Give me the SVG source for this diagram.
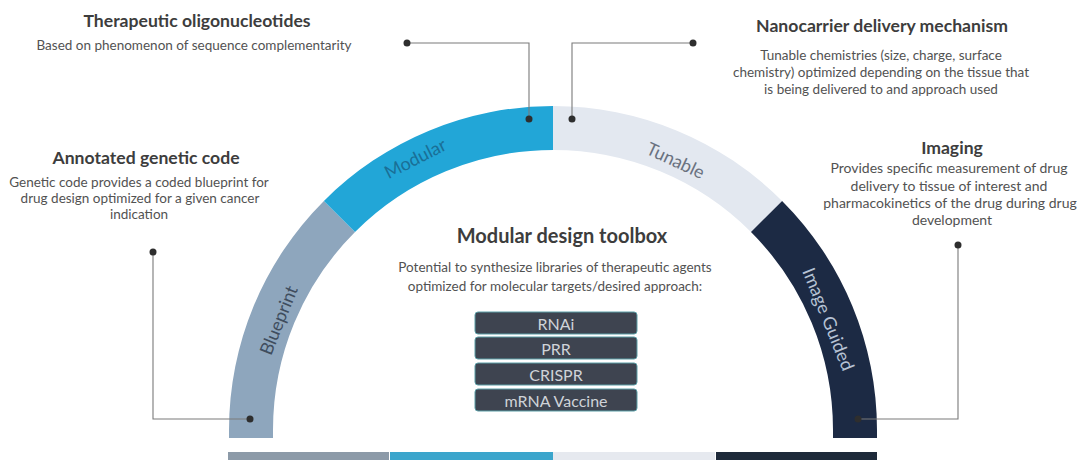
<svg xmlns="http://www.w3.org/2000/svg" width="1077" height="462" viewBox="0 0 1077 462">
<style>
.t{font-family:Lato,"Open Sans","Liberation Sans",sans-serif;fill:#3d3d3d;font-weight:700;text-anchor:middle;font-size:17.6px}
.d{font-family:Lato,"Open Sans","Liberation Sans",sans-serif;fill:#525252;font-size:13.5px;text-anchor:middle}
.arc{font-family:Lato,"Open Sans","Liberation Sans",sans-serif;font-size:18px;text-anchor:middle;dominant-baseline:central}
.box{fill:#3e4450;stroke:#5a9ea6;stroke-width:1}
.bt{font-family:Lato,"Open Sans","Liberation Sans",sans-serif;font-size:16px;fill:#cfd3d8;text-anchor:middle;dominant-baseline:central}
.ln{fill:none;stroke:#7a7a7a;stroke-width:1.1}
.dot{fill:#2e2e2e}
</style>
<rect width="1077" height="462" fill="#ffffff"/>
<g id="arc-blueprint">
<path d="M229,438 L229,430 A324,324 0 0 1 323.9,200.9 L355.01,232.01 A280,280 0 0 0 273,430 L273,438 Z" fill="#8ea6bd"/>
<text class="arc" x="278" y="320" transform="rotate(-68 278 320)" fill="#3f4d5e">Blueprint</text>
</g>
<g id="arc-modular">
<path d="M323.9,200.9 A324,324 0 0 1 553,106 L553,150 A280,280 0 0 0 355.01,232.01 Z" fill="#22a6d7"/>
<text class="arc" x="415" y="158" transform="rotate(-27 415 158)" fill="#1a6f96">Modular</text>
</g>
<g id="arc-tunable">
<path d="M553,106 A324,324 0 0 1 782.1,200.9 L750.99,232.01 A280,280 0 0 0 553,150 Z" fill="#e3e8f0"/>
<text class="arc" x="676" y="160" transform="rotate(25 676 160)" fill="#6a7280">Tunable</text>
</g>
<g id="arc-image-guided">
<path d="M782.1,200.9 A324,324 0 0 1 877,430 L877,438 L833,438 L833,430 A280,280 0 0 0 750.99,232.01 Z" fill="#1c2a44"/>
<text class="arc" x="829" y="319" transform="rotate(68 829 319)" fill="#b6c2d4">Image Guided</text>
</g>
<g id="bottom-bar">
<rect x="228" y="452" width="161" height="8" fill="#8c9aa8"/>
<rect x="390" y="452" width="163" height="8" fill="#3ba5cc"/>
<rect x="553" y="452" width="162" height="8" fill="#e6e9ef"/>
<rect x="716" y="452" width="161" height="8" fill="#1e2a3a"/>
</g>
<g id="connectors">
<path class="ln" d="M407,43 H529 V119"/>
<circle class="dot" cx="407" cy="43" r="3.5"/>
<circle class="dot" cx="529" cy="119" r="3.5"/>
<path class="ln" d="M693,43 H572 V119"/>
<circle class="dot" cx="693" cy="43" r="3.5"/>
<circle class="dot" cx="572" cy="119" r="3.5"/>
<path class="ln" d="M153,252 V419 H250"/>
<circle class="dot" cx="153" cy="252" r="3.5"/>
<circle class="dot" cx="250" cy="419" r="3.5"/>
<path class="ln" d="M958,245 V419 H858"/>
<circle class="dot" cx="958" cy="245" r="3.5"/>
<circle class="dot" cx="858" cy="419" r="3.5"/>
</g>
<g id="therapeutic">
<text class="t" x="197" y="27">Therapeutic oligonucleotides</text>
<text class="d" x="194" y="50">Based on phenomenon of sequence complementarity</text>
</g>
<g id="nanocarrier">
<text class="t" x="882" y="32">Nanocarrier delivery mechanism</text>
<text class="d" x="881" y="60">Tunable chemistries (size, charge, surface</text>
<text class="d" x="881" y="77">chemistry) optimized depending on the tissue that</text>
<text class="d" x="881" y="94">is being delivered to and approach used</text>
</g>
<g id="annotated">
<text class="t" x="146" y="164">Annotated genetic code</text>
<text class="d" x="139" y="187">Genetic code provides a coded blueprint for</text>
<text class="d" x="140" y="203">drug design optimized for a given cancer</text>
<text class="d" x="139" y="219">indication</text>
</g>
<g id="imaging">
<text class="t" x="952" y="154">Imaging</text>
<text class="d" x="949" y="173" style="font-size:14px">Provides specific measurement of drug</text>
<text class="d" x="949" y="191" style="font-size:14px">delivery to tissue of interest and</text>
<text class="d" x="950" y="208" style="font-size:14px">pharmacokinetics of the drug during drug</text>
<text class="d" x="952" y="225" style="font-size:14px">development</text>
</g>
<g id="toolbox">
<text class="t" x="562" y="243" style="font-size:20px">Modular design toolbox</text>
<text class="d" x="555" y="272">Potential to synthesize libraries of therapeutic agents</text>
<text class="d" x="555" y="291">optimized for molecular targets/desired approach:</text>
</g>
<g id="box-rnai"><rect class="box" x="475" y="312" width="162" height="22" rx="3"/><text class="bt" x="556" y="323">RNAi</text></g>
<g id="box-prr"><rect class="box" x="475" y="337" width="162" height="22" rx="3"/><text class="bt" x="556" y="348">PRR</text></g>
<g id="box-crispr"><rect class="box" x="475" y="363" width="162" height="22" rx="3"/><text class="bt" x="556" y="374">CRISPR</text></g>
<g id="box-mrna"><rect class="box" x="475" y="389" width="162" height="22" rx="3"/><text class="bt" x="556" y="400">mRNA Vaccine</text></g>
</svg>
